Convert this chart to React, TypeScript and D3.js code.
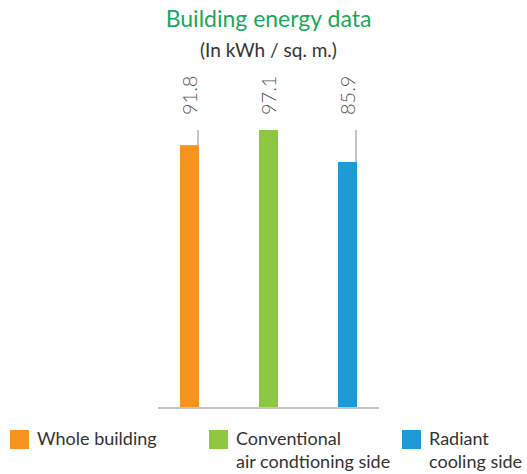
import React from "react";
import * as d3 from "d3";

const categories = ["Whole building", "Conventional air condtioning side", "Radiant cooling side"];
const values = [91.8, 97.1, 85.9];
const colors = ["#f7941d", "#8dc63f", "#1e9ad6"];
const legendLines = [["Whole building"], ["Conventional", "air condtioning side"], ["Radiant", "cooling side"]];
const title = "Building energy data";
const subtitle = "(In kWh / sq. m.)";

const W = 527;
const H = 474;
const FONT = "Lato, 'Open Sans', sans-serif";

export default function App() {
  const x = d3.scalePoint<string>().domain(categories).range([189.5, 347.5]);
  const maxV = d3.max(values) as number;
  const y = d3.scaleLinear().domain([0, maxV]).range([407, 130]);
  const barW = 19;
  const legendX = [10, 209, 402];

  return (
    <svg width={W} height={H} style={{ position: "absolute", left: 0, top: 0, background: "#fff" }}>
      <text x={268.5} y={27} textAnchor="middle" fontFamily={FONT} fontSize={23} fill="#19a95a">
        {title}
      </text>
      <text x={268.5} y={57} textAnchor="middle" fontFamily={FONT} fontSize={19} fill="#333">
        {subtitle}
      </text>
      {categories.map((c, i) => {
        const cx = x(c) as number;
        const top = y(values[i]);
        return (
          <g key={c}>
            <rect x={cx - barW / 2} y={top} width={barW} height={y(0) - top} fill={colors[i]} />
            {top - y(maxV) > 0.5 && (
              <line
                x1={cx + barW / 2 - 1}
                x2={cx + barW / 2 - 1}
                y1={y(maxV)}
                y2={top}
                stroke="#b0b0b0"
                strokeWidth={1.5}
              />
            )}
            <text
              transform={`translate(${cx + 7},115) rotate(-90)`}
              fontFamily={FONT}
              fontWeight={300}
              fontSize={20}
              fill="#555"
            >
              {values[i].toFixed(1)}
            </text>
          </g>
        );
      })}
      <line x1={158} x2={379} y1={408} y2={408} stroke="#c4c4c8" strokeWidth={2} />
      {categories.map((c, i) => (
        <g key={"lg" + c}>
          <rect x={legendX[i]} y={430} width={19} height={19} fill={colors[i]} />
          {legendLines[i].map((t, j) => (
            <text
              key={t}
              x={legendX[i] + 27}
              y={445 + j * 23}
              fontFamily={FONT}
              fontSize={18}
              fill="#333"
            >
              {t}
            </text>
          ))}
        </g>
      ))}
    </svg>
  );
}
